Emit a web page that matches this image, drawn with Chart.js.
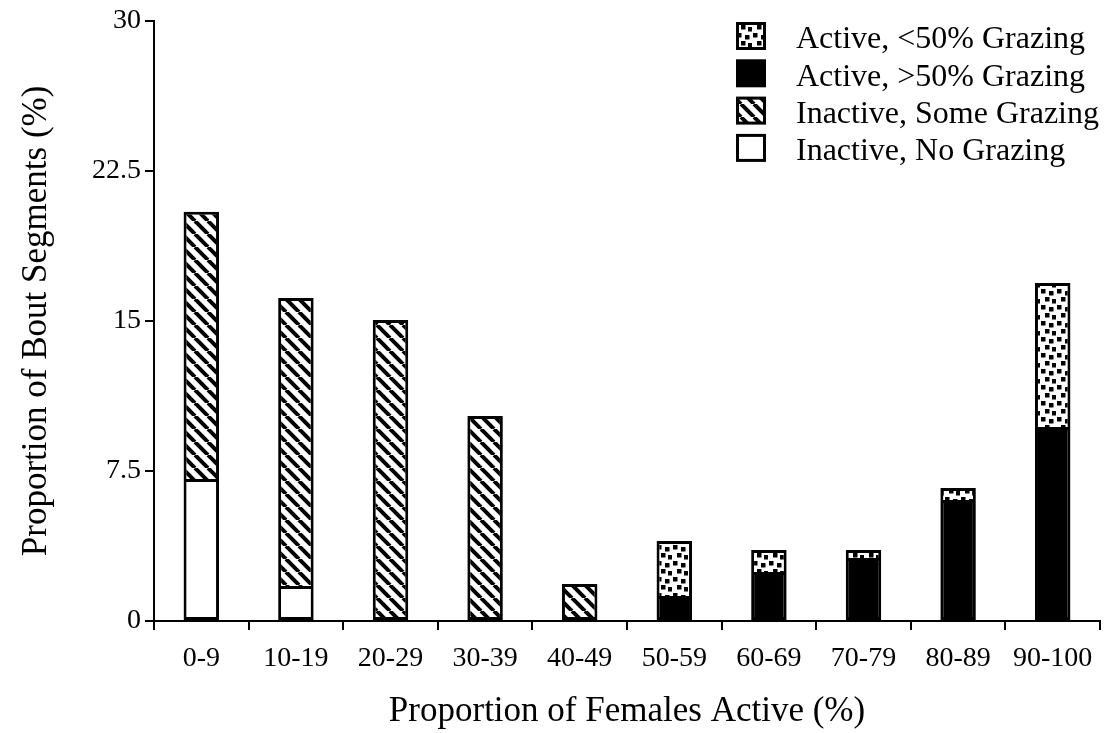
<!DOCTYPE html>
<html>
<head>
<meta charset="utf-8">
<script src="https://cdn.jsdelivr.net/npm/chart.js@4/dist/chart.umd.min.js"></script>
<style>
  html, body { margin: 0; padding: 0; background: #fff; }
  canvas { display: block; }
</style>
</head>
<body>
<canvas id="chart" width="1113" height="733"></canvas>
<script>
// Female activity classes (x categories)
const categories = ['0-9', '10-19', '20-29', '30-39', '40-49', '50-59', '60-69', '70-79', '80-89', '90-100'];

// Share of bout segments (%) per behaviour class, stacked bottom to top
const inactiveNoGrazing   = [7.1, 1.75, 0, 0, 0, 0, 0, 0, 0, 0];
const inactiveSomeGrazing = [13.35, 14.4, 15.05, 10.25, 1.85, 0, 0, 0, 0, 0];
const activeOver50        = [0, 0, 0, 0, 0, 1.25, 2.45, 3.15, 6.05, 9.7];
const activeUnder50       = [0, 0, 0, 0, 0, 2.75, 1.1, 0.4, 0.6, 7.2];

// Y axis tick labels
const yTicks = [0, 7.5, 15, 22.5, 30];

const SERIF = '"Liberation Serif", "Times New Roman", serif';

function hatchPattern() {
  const s = 13;
  const c = document.createElement('canvas');
  c.width = c.height = s;
  const g = c.getContext('2d');
  g.fillStyle = '#fff';
  g.fillRect(0, 0, s, s);
  g.strokeStyle = '#000';
  g.lineWidth = 4;
  for (const o of [-s, 0, s]) {
    g.beginPath();
    g.moveTo(o, 0);
    g.lineTo(o + s, s);
    g.stroke();
  }
  return g.createPattern(c, 'repeat');
}

function dotPattern() {
  const s = 16;
  const c = document.createElement('canvas');
  c.width = c.height = s;
  const g = c.getContext('2d');
  g.fillStyle = '#fff';
  g.fillRect(0, 0, s, s);
  g.fillStyle = '#000';
  const spots = [[1, 1], [9, 3], [5, 9], [12, 11]];
  for (const [x, y] of spots) g.fillRect(x, y, 4.5, 4.5);
  return g.createPattern(c, 'repeat');
}

const hatch = hatchPattern();
const dots = dotPattern();

// Skip the shared lower edge when another segment sits underneath
function skipIfStacked(ctx) {
  const ds = ctx.chart.data.datasets;
  for (let i = 0; i < ctx.datasetIndex; i++) {
    if ((ds[i].data[ctx.dataIndex] || 0) > 0) return 'start';
  }
  return false;
}

const barStyle = {
  borderColor: '#000',
  borderWidth: 3,
  borderSkipped: skipIfStacked,
  barPercentage: 0.375,
  categoryPercentage: 1.0
};

// Legend drawn in the upper right of the plot, top entry = top of stack
const cornerLegend = {
  id: 'cornerLegend',
  afterDraw(chart) {
    const g = chart.ctx;
    const items = chart.data.datasets.slice().reverse();
    g.save();
    g.font = '32px ' + SERIF;
    g.textBaseline = 'middle';
    items.forEach((ds, i) => {
      const y = 23 + i * 37.3;
      g.fillStyle = ds.backgroundColor;
      g.fillRect(737, y, 28, 26);
      g.strokeStyle = '#000';
      g.lineWidth = 3;
      g.strokeRect(737.5, y + 0.5, 27, 25);
      g.fillStyle = '#000';
      g.fillText(ds.label, 796, y + 17);
    });
    g.restore();
  }
};

new Chart(document.getElementById('chart'), {
  type: 'bar',
  data: {
    labels: categories,
    datasets: [
      Object.assign({ label: 'Inactive, No Grazing', data: inactiveNoGrazing, backgroundColor: '#fff' }, barStyle),
      Object.assign({ label: 'Inactive, Some Grazing', data: inactiveSomeGrazing, backgroundColor: hatch }, barStyle),
      Object.assign({ label: 'Active, >50% Grazing', data: activeOver50, backgroundColor: '#000' }, barStyle),
      Object.assign({ label: 'Active, <50% Grazing', data: activeUnder50, backgroundColor: dots }, barStyle)
    ]
  },
  options: {
    responsive: false,
    devicePixelRatio: 1,
    animation: false,
    layout: { padding: { top: 20, right: 13, left: 0, bottom: 0 } },
    plugins: {
      legend: { display: false },
      tooltip: { enabled: false }
    },
    scales: {
      x: {
        stacked: true,
        grid: { display: true, offset: true, drawOnChartArea: false, drawTicks: true, tickLength: 9, color: '#000', lineWidth: 2 },
        border: { display: true, color: '#000', width: 2 },
        ticks: { color: '#000', font: { family: SERIF, size: 28 }, padding: 12, maxRotation: 0, autoSkip: false },
        title: { display: true, text: 'Proportion of Females Active (%)', color: '#000', font: { family: SERIF, size: 35 }, padding: { top: 0, bottom: 0 } },
        afterFit(scale) { scale.height = 733 - 621; }
      },
      y: {
        stacked: true,
        min: 0,
        max: 30,
        afterBuildTicks(scale) { scale.ticks = yTicks.map(v => ({ value: v })); },
        grid: { display: true, drawOnChartArea: false, drawTicks: true, tickLength: 9, color: '#000', lineWidth: 2 },
        border: { display: true, color: '#000', width: 2 },
        ticks: { color: '#000', font: { family: SERIF, size: 28 }, padding: 4, callback: v => String(v) },
        title: { display: true, text: 'Proportion of Bout Segments (%)', color: '#000', font: { family: SERIF, size: 35 }, padding: { top: 16, bottom: 0 } },
        afterFit(scale) { scale.width = 154; }
      }
    }
  },
  plugins: [cornerLegend]
});
</script>
</body>
</html>
